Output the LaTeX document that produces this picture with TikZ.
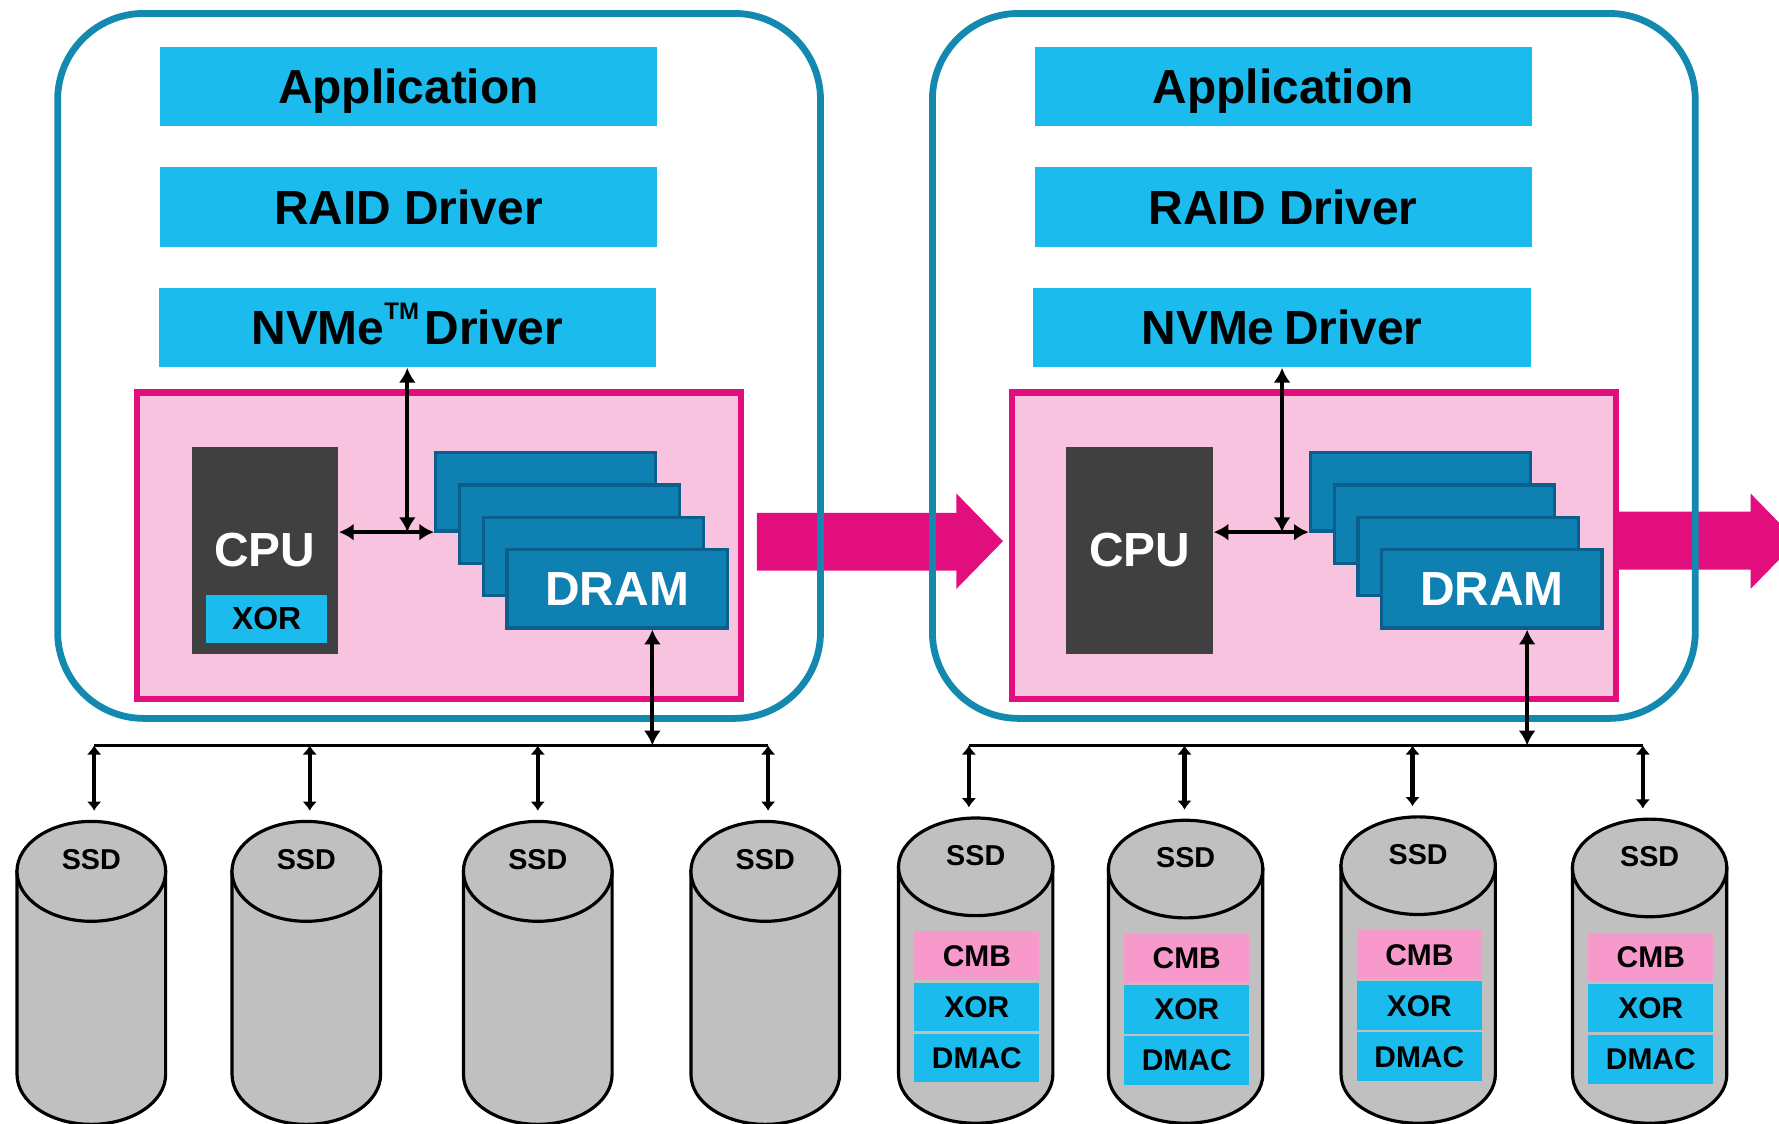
\documentclass[tikz,border=0pt]{standalone}
\usepackage{fontspec}
\setmainfont{Liberation Sans}
\usetikzlibrary{arrows.meta,shapes.geometric,calc}
\definecolor{cyanbox}{RGB}{28,187,238}
\definecolor{panelblue}{RGB}{19,137,176}
\definecolor{drambl}{RGB}{14,128,178}
\definecolor{dramedge}{RGB}{10,95,140}
\definecolor{pinkfill}{RGB}{247,195,222}
\definecolor{mag}{RGB}{226,14,126}
\definecolor{cpugray}{RGB}{64,64,64}
\definecolor{ssdgray}{RGB}{192,192,192}
\definecolor{cmbpink}{RGB}{247,153,202}
\tikzset{
  layerbox/.style={fill=cyanbox, inner sep=0pt, minimum width=4.38cm, minimum height=0.70cm,
    text height=0.86em, text depth=0pt, font=\fontsize{12}{14}\selectfont\bfseries},
  panelbox/.style={draw=panelblue, line width=1.7pt, rounded corners=0.76cm, inner sep=0pt,
    minimum width=6.72cm, minimum height=6.21cm},
  hostbox/.style={draw=mag, fill=pinkfill, line width=1.6pt, inner sep=0pt,
    minimum width=5.32cm, minimum height=2.70cm},
  cpubox/.style={fill=cpugray, inner sep=0pt, minimum width=1.29cm, minimum height=1.82cm,
    text=white, font=\fontsize{12}{14}\selectfont\bfseries},
  dramstack/.style={fill=drambl, draw=dramedge, line width=0.8pt, inner sep=0pt,
    minimum width=1.94cm, minimum height=0.69cm, text=white, font=\fontsize{12}{14}\selectfont\bfseries},
  smallxor/.style={fill=cyanbox, inner sep=0pt, minimum width=1.06cm, minimum height=0.43cm,
    font=\fontsize{8}{9}\selectfont\bfseries},
  dbl/.style={{Latex[length=0.13cm,width=0.15cm]}-{Latex[length=0.13cm,width=0.15cm]}, line width=1pt},
  sdbl/.style={{Latex[length=0.08cm,width=0.13cm]}-{Latex[length=0.08cm,width=0.13cm]}, line width=1.1pt},
  bus/.style={line width=0.6pt},
  ssdbody/.style={fill=ssdgray, draw=black, line width=0.8pt},
  ssdtop/.style={ellipse, fill=ssdgray, draw=black, line width=0.8pt, inner sep=0pt},
  ssdlabel/.style={font=\fontsize{7.2}{8}\selectfont\bfseries, inner sep=0pt},
  unitbox/.style={inner sep=0pt, minimum width=1.10cm, minimum height=0.43cm,
    font=\fontsize{7.5}{8}\selectfont\bfseries},
}
\newcommand\cylbody[4]{%
  \filldraw[ssdbody] (#1-#3,#2) -- (#1-#3,947) arc[start angle=180,end angle=0,x radius=#3,y radius=#4] -- (#1+#3,#2) -- cycle;}
\newcommand\tmark{\raisebox{0.52em}{\fontsize{6}{7}\selectfont TM}}
\begin{document}
\begin{tikzpicture}[x=0.01cm,y=-0.01cm]
\useasboundingbox (0,0) rectangle (1568,990);
\clip (0,0) rectangle (1568,990);
\fill[white] (0,0) rectangle (1568,990);

% big magenta arrows
\fill[mag] (667,452) -- (843,452) -- (843,435) -- (884,477) -- (843,519) -- (843,503) -- (667,503) -- cycle;
\fill[mag] (1427,451) -- (1543,451) -- (1543,435) -- (1584,477) -- (1543,519) -- (1543,502) -- (1427,502) -- cycle;

\foreach \p/\dx/\nv in {L/0/{NVMe\tmark\hspace{0.12em}Driver}, R/771/{NVMe\hspace{0.2em}Driver}} {
  \begin{scope}[shift={(\dx,0)}]
    \node[panelbox] (\p-panel) at (387,322.5) {};
    \node[layerbox] (\p-app) at (360,76) {Application};
    \node[layerbox] (\p-raid) at (360,182.5) {RAID Driver};
    \node[layerbox] (\p-nvme) at (359,288.5) {\nv};
    \node[hostbox] (\p-host) at (387,481) {};
    \node[cpubox] (\p-cpu) at (233.5,485) {CPU};
    \node[dramstack] (\p-d1) at (481,433.5) {};
    \node[dramstack] (\p-d2) at (502,462) {};
    \node[dramstack] (\p-d3) at (523,490.5) {};
    \node[dramstack] (\p-d4) at (544,519) {DRAM};
    \coordinate (\p-j) at (359,469);
    \coordinate (\p-bj) at (575,657);
    \coordinate (\p-b1) at (83,657);
    \coordinate (\p-b2) at (273,657);
    \coordinate (\p-b3) at (474,657);
    \coordinate (\p-b4) at (677,657);
    \draw[dbl] (\p-nvme.south -| \p-j) -- (\p-j);
    \draw[dbl] (\p-cpu.east |- \p-j) -- (\p-d1.west |- \p-j);
    \draw[dbl] (\p-d4.south -| \p-bj) -- (\p-bj);
    \draw[bus] (\p-b1) -- (\p-b4);
  \end{scope}
}
\node[smallxor] (L-xor) at (235,545.5) {XOR};

% left SSDs
\foreach \i/\cx in {1/80.5, 2/270, 3/474, 4/674.5} {
  \cylbody{\cx}{768}{65.5}{44}
  \node[ssdtop, minimum width=1.31cm, minimum height=0.88cm] (L-s\i) at (\cx,768) {};
  \node[ssdlabel] (L-l\i) at (\cx,758) {SSD};
  \draw[sdbl, shorten >=0.08cm] (L-b\i) -- (L-b\i |- L-s\i.north);
}
% right SSDs
\foreach \i/\cx/\cy in {1/860/764, 2/1045/766, 3/1250/763, 4/1454/765} {
  \cylbody{\cx}{\cy}{68}{43}
  \node[ssdtop, minimum width=1.36cm, minimum height=0.86cm] (R-s\i) at (\cx,\cy) {};
  \node[ssdlabel] (R-l\i) at (\cx,\cy-10) {SSD};
  \node[unitbox, fill=cmbpink] (R-cmb\i) at (\cx+1,\cy+78.5) {CMB};
  \node[unitbox, fill=cyanbox] (R-xor\i) at (\cx+1,\cy+123.5) {XOR};
  \node[unitbox, fill=cyanbox] (R-dmac\i) at (\cx+1,\cy+168.5) {DMAC};
  \draw[sdbl, shorten >=0.08cm] (R-b\i) -- (R-b\i |- R-s\i.north);
}
\end{tikzpicture}
\end{document}
